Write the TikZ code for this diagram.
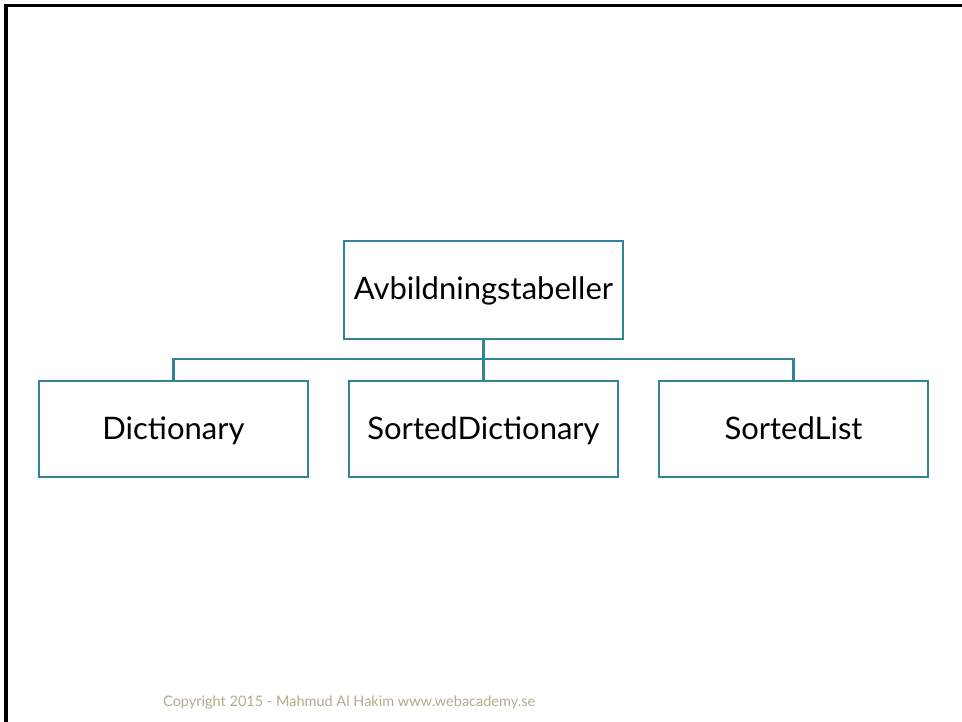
\documentclass[tikz,border=0pt]{standalone}
\usepackage{fontspec}
\setmainfont{Lato}
\definecolor{teal}{HTML}{31849B}
\definecolor{footer}{HTML}{B5AA8C}
\begin{document}
\begin{tikzpicture}[x=1pt,y=-1pt,
  box/.style={draw=teal,line width=2.6pt,fill=white,minimum width=269pt,minimum height=96pt,
    inner sep=0pt,text height=22.3pt,text depth=2.3pt,font=\fontsize{31}{36}\selectfont},
  link/.style={draw=teal,line width=2.6pt}]
\useasboundingbox (0,0) rectangle (962,722);
\fill[white] (0,0) rectangle (962,722);
% slide frame
\draw[line width=3.5pt] (6,722) -- (6,5.5) -- (962,5.5);
% connectors
\coordinate (bus) at (483.5,359);
\node[box,minimum width=279pt,minimum height=98pt] (root) at (483.5,290) {Avbildningstabeller};
\node[box] (dict) at (173.5,429) {Dictionary};
\node[box] (sdict) at (483.5,429) {SortedDictionary};
\node[box] (slist) at (793.5,429) {SortedList};
\draw[link] (root.south) -- (sdict.north);
\draw[link] (dict.north) |- (bus) -| (slist.north);
% footer
\node[anchor=base west,text=footer,inner sep=0pt,font=\fontsize{14.5}{17}\selectfont] (copy) at (163,706) {Copyright 2015 - Mahmud Al Hakim www.webacademy.se};
\end{tikzpicture}
\end{document}
